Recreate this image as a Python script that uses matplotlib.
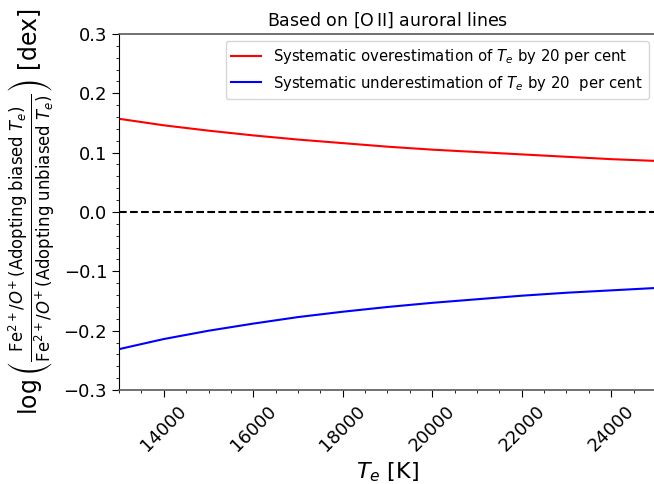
import matplotlib
matplotlib.use("Agg")
import matplotlib.pyplot as plt
from matplotlib.ticker import AutoMinorLocator

# electron temperature grid [K]
te = [13000, 14000, 15000, 16000, 17000, 18000, 19000,
      20000, 21000, 22000, 23000, 24000, 25000]

# log ratio when Te overestimated by 20 per cent
over = [0.157, 0.146, 0.137, 0.129, 0.122, 0.116, 0.110,
        0.105, 0.101, 0.097, 0.093, 0.089, 0.086]

# log ratio when Te underestimated by 20 per cent
under = [-0.231, -0.214, -0.200, -0.188, -0.177, -0.168, -0.160,
         -0.153, -0.147, -0.141, -0.136, -0.132, -0.128]

xticks = [14000, 16000, 18000, 20000, 22000, 24000]
yticks = [-0.3, -0.2, -0.1, 0.0, 0.1, 0.2, 0.3]

fig = plt.figure(figsize=(6.54, 4.84), dpi=100)
ax = fig.add_axes([0.182, 0.194, 0.821, 0.736])

ax.plot(te, over, color='red', lw=1.5,
        label=r'Systematic overestimation of $T_e$ by 20 per cent')
ax.plot(te, under, color='blue', lw=1.5,
        label=r'Systematic underestimation of $T_e$ by 20  per cent')
ax.axhline(0.0, color='black', ls='--', lw=1.5)

ax.set_xlim(13000, 25000)
ax.set_ylim(-0.3, 0.3)
ax.set_xticks(xticks)
ax.set_yticks(yticks)
ax.xaxis.set_minor_locator(AutoMinorLocator(4))
ax.yaxis.set_minor_locator(AutoMinorLocator(5))
ax.tick_params(axis='both', which='major', labelsize=13, length=5)
ax.tick_params(axis='both', which='minor', length=2.5)
plt.setp(ax.get_xticklabels(), rotation=45)
for side in ('top', 'bottom'):
    ax.spines[side].set_color('0.35')
    ax.spines[side].set_linewidth(1.2)

ax.set_xlabel(r'$T_e$ [K]', fontsize=16)
ax.set_ylabel(r'$\log\left(\frac{\mathrm{Fe}^{2+}/O^{+}\,\mathrm{(Adopting\ biased}\ T_e)}'
              r'{\mathrm{Fe}^{2+}/O^{+}\,\mathrm{(Adopting\ unbiased}\ T_e)}\right)$ [dex]',
              fontsize=17)
ax.set_title(r'Based on [O$\,$II] auroral lines', fontsize=12.5)
ax.legend(loc='upper right', fontsize=10.7)

fig.savefig('out.png', dpi=100)
